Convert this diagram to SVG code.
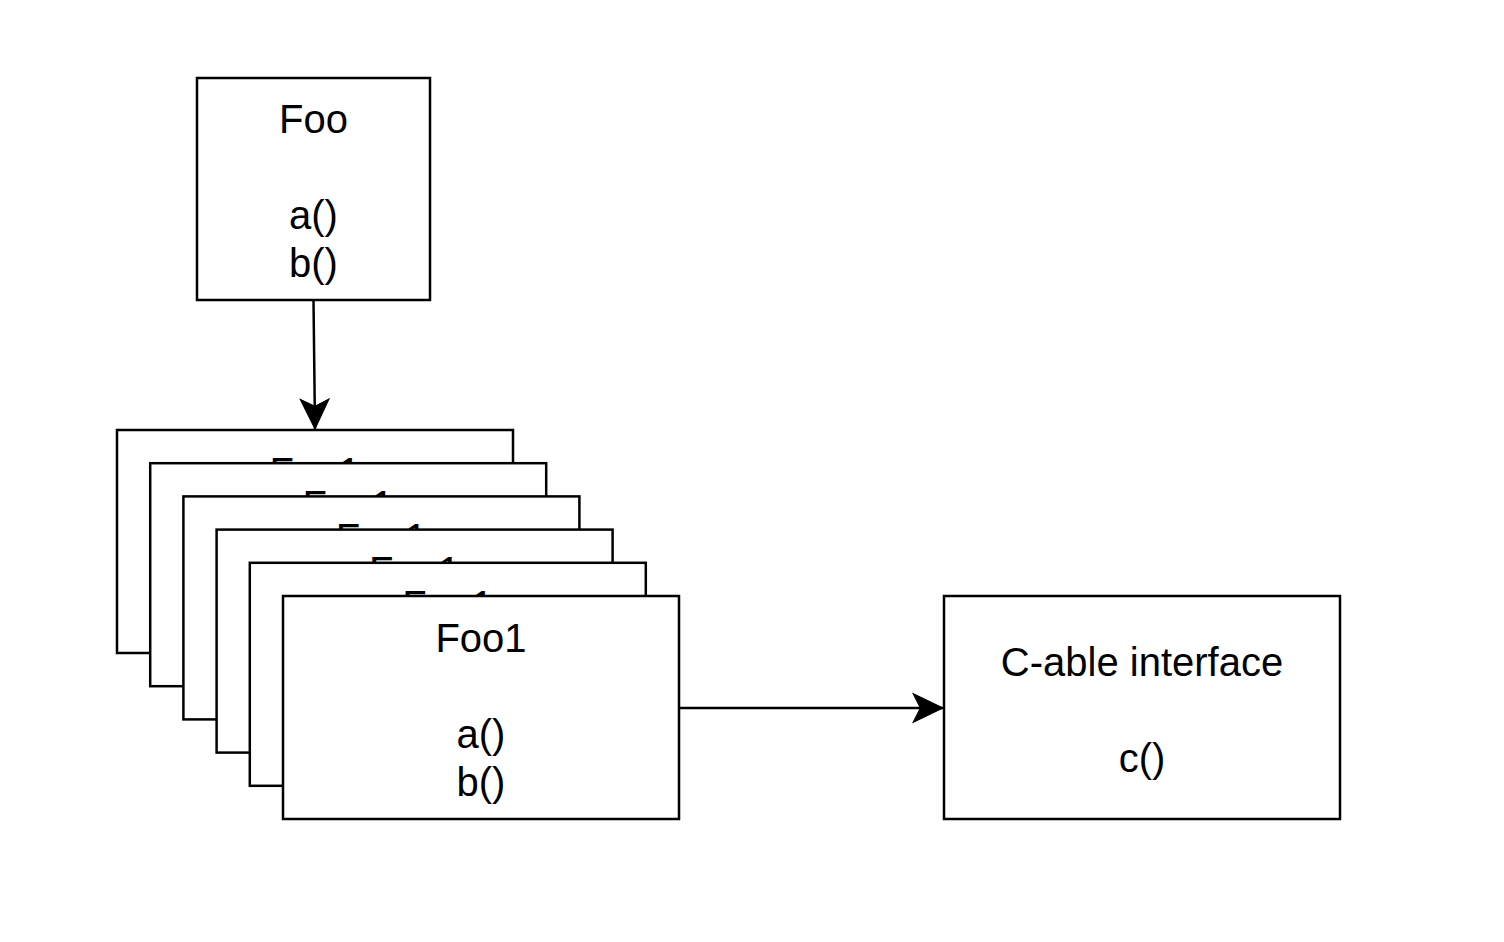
<svg xmlns="http://www.w3.org/2000/svg" width="1504" height="942" viewBox="0 0 1504 942">
<style>
.box{fill:#fff;stroke:#000;stroke-width:2.5}
.t{font-family:"Liberation Sans",Arial,sans-serif;font-size:40px;fill:#000;text-anchor:middle}
.edge{fill:none;stroke:#000;stroke-width:2.5}
</style>
<defs>
<marker id="arr" markerUnits="userSpaceOnUse" markerWidth="34" markerHeight="34" viewBox="-31 -16 33 32" refX="0" refY="0" orient="auto">
<path d="M0,0 L-29,-14 L-22,0 L-29,14 Z" fill="#000" stroke="#000" stroke-width="1"/>
</marker>
</defs>
<rect width="1504" height="942" fill="#fff"/>
<g id="foo">
<rect class="box" x="197" y="78" width="233" height="222"/>
<text class="t" x="313.5" y="133">Foo</text>
<text class="t" x="313.5" y="229">a()</text>
<text class="t" x="313.5" y="277">b()</text>
</g>
<g id="foo1-stack-1">
<rect class="box" x="117" y="430" width="396" height="223"/>
<text class="t" x="315" y="485.7">Foo1</text>
</g>
<g id="foo1-stack-2">
<rect class="box" x="150.2" y="463.2" width="396" height="223"/>
<text class="t" x="348.2" y="518.9">Foo1</text>
</g>
<g id="foo1-stack-3">
<rect class="box" x="183.4" y="496.4" width="396" height="223"/>
<text class="t" x="381.4" y="552.1">Foo1</text>
</g>
<g id="foo1-stack-4">
<rect class="box" x="216.6" y="529.6" width="396" height="223"/>
<text class="t" x="414.6" y="585.3">Foo1</text>
</g>
<g id="foo1-stack-5">
<rect class="box" x="249.8" y="562.8" width="396" height="223"/>
<text class="t" x="447.8" y="618.5">Foo1</text>
</g>
<g id="foo1">
<rect class="box" x="283" y="596" width="396" height="223"/>
<text class="t" x="481" y="651.7">Foo1</text>
<text class="t" x="481" y="747.7">a()</text>
<text class="t" x="481" y="795.7">b()</text>
</g>
<g id="cable">
<rect class="box" x="944" y="596" width="396" height="223"/>
<text class="t" x="1142" y="675.7">C-able interface</text>
<text class="t" x="1142" y="771.7">c()</text>
</g>
<g id="connectors">
<path class="edge" d="M313.5,300 L315,429" marker-end="url(#arr)"/>
<path class="edge" d="M679,708 L943,708" marker-end="url(#arr)"/>
</g>
</svg>
